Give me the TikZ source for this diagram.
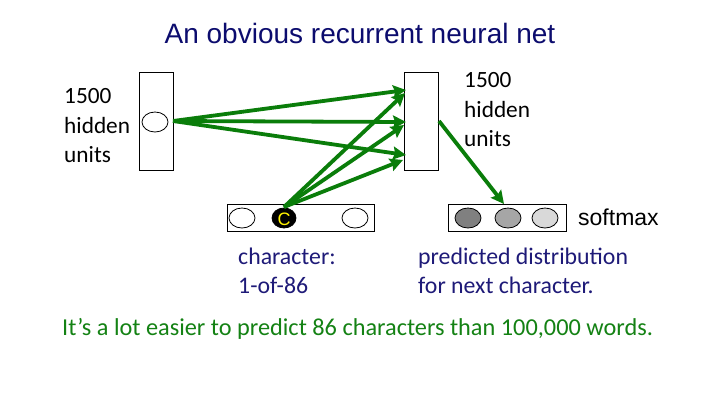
\documentclass[tikz,border=0pt]{standalone}
\usepackage{fontspec}
\setmainfont{Carlito}
\newfontfamily\arial{Liberation Sans}
\usetikzlibrary{arrows.meta,shapes.geometric}
\definecolor{navy}{RGB}{12,12,110}
\definecolor{dblue}{RGB}{30,26,120}
\definecolor{arrgreen}{RGB}{10,125,10}
\definecolor{txtgreen}{RGB}{20,130,20}
\begin{document}
\begin{tikzpicture}[x=1pt,y=-1pt,
  box/.style={draw=black,line width=0.9pt,inner sep=0pt,fill=white},
  unit/.style={draw=black,line width=0.8pt,ellipse,inner sep=0pt,minimum width=26pt,minimum height=20pt},
  garrow/.style={draw=arrgreen,line width=3.8pt,-{Stealth[length=13pt,width=13pt,inset=2pt]}},
  lbl/.style={anchor=base west,inner sep=0pt,font=\fontsize{23.3}{28}\selectfont},
  blbl/.style={lbl,text=dblue,font=\fontsize{23.8}{28}\selectfont}]
\useasboundingbox (0,0) rectangle (720,405);
\fill[white] (0,0) rectangle (720,405);
% title
\node[anchor=base,inner sep=0pt,text=navy,font=\arial\fontsize{28}{32}\selectfont] (title) at (360,43) {An obvious recurrent neural net};
% boxes
\node[box,minimum width=34pt,minimum height=98pt] (lh) at (156,121) {};
\node[box,minimum width=34pt,minimum height=98pt] (rh) at (421,121) {};
\node[box,minimum width=147pt,minimum height=27pt] (ib) at (300.5,217.5) {};
\node[box,minimum width=118pt,minimum height=27pt] (ob) at (507,217.5) {};
% units
\node[unit] (lu) at (155,122) {};
\node[unit] (i1) at (242,218) {};
\node[unit,fill=black,minimum width=24pt] (ic) at (284,218) {};
\node[text=yellow,inner sep=0pt,font=\arial\fontsize{18}{20}\selectfont] (cl) at (284,219) {C};
\node[unit] (i3) at (355,218) {};
\node[unit,fill=black!50] (o1) at (468,218) {};
\node[unit,fill=black!35] (o2) at (508,218) {};
\node[unit,fill=black!15] (o3) at (545,218) {};
% arrow endpoints
\coordinate (ls) at (173,121);
\coordinate (t1) at (406,90);
\coordinate (t2) at (406,122);
\coordinate (t3) at (406,155);
\coordinate (cs) at (284,207);
\coordinate (u1) at (405,93);
\coordinate (u2) at (404,125);
\coordinate (u3) at (403,160);
\coordinate (rs) at (439,121);
\coordinate (ot) at (504,204);
% arrows
\draw[garrow] (ls) -- (t1);
\draw[garrow] (ls) -- (t2);
\draw[garrow] (ls) -- (t3);
\draw[garrow] (cs) -- (u1);
\draw[garrow] (cs) -- (u2);
\draw[garrow] (cs) -- (u3);
\draw[garrow] (rs) -- (ot);
% labels
\node[lbl] (l1) at (64,103) {1500};
\node[lbl] (l2) at (64,133) {hidden};
\node[lbl] (l3) at (64,162) {units};
\node[lbl] (r1) at (464,87) {1500};
\node[lbl] (r2) at (464,117) {hidden};
\node[lbl] (r3) at (464,146) {units};
\node[anchor=base west,inner sep=0pt,font=\arial\fontsize{23}{26}\selectfont] (sm) at (578,225) {softmax};
\node[blbl] (c1) at (238,264) {character:};
\node[blbl] (c2) at (238,293) {1-of-86};
\node[blbl] (p1) at (418,264) {predicted distribution};
\node[blbl] (p2) at (418,293) {for next character.};
\node[anchor=base west,inner sep=0pt,text=txtgreen,font=\fontsize{24.3}{28}\selectfont] (bt) at (62,335) {It’s a lot easier to predict 86 characters than 100,000 words.};
\end{tikzpicture}
\end{document}
